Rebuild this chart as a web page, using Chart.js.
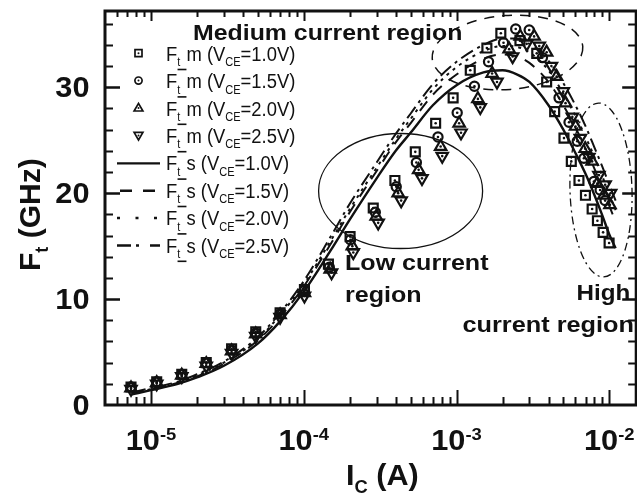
<!DOCTYPE html>
<html>
<head>
<meta charset="utf-8">
<script src="https://cdn.jsdelivr.net/npm/chart.js@4.4.1/dist/chart.umd.min.js"></script>
<style>
  html, body { margin: 0; padding: 0; background: #fff; overflow: hidden; }
  #wrap { width: 637px; height: 495px; overflow: hidden; }
  canvas { display: block; }
</style>
</head>
<body>
<div id="wrap"><canvas id="myChart" width="645" height="495" style="width:645px;height:495px"></canvas></div>
<script>
// Axis ranges
const xMin = 5e-6, xMax = 1.5e-2;
const yMin = 0, yMax = 37.2;

// Tick labels
const yTickLabels = [0, 10, 20, 30];
const xTickExponents = [-5, -4, -3, -2];

// Measured Ft (markers)
const icM10 = [7.4e-6, 1.09e-5, 1.59e-5, 2.3e-5, 3.37e-5, 4.85e-5, 7.0e-5, 1.01e-4, 1.45e-4, 2.01e-4, 2.85e-4, 3.95e-4, 5.37e-4, 7.3e-4, 9.5e-4, 1.23e-3, 1.58e-3, 1.95e-3, 2.6e-3, 3.35e-3, 3.89e-3, 4.39e-3, 5.05e-3, 5.64e-3, 6.33e-3, 6.98e-3, 7.72e-3, 8.36e-3, 9.11e-3, 9.97e-3];
const ftM10 = [1.7, 2.2, 2.9, 4.0, 5.3, 6.9, 8.7, 10.9, 13.3, 15.9, 18.6, 21.2, 23.9, 26.6, 29.0, 31.6, 33.7, 35.1, 34.4, 33.2, 30.5, 27.7, 25.2, 23.0, 21.2, 19.8, 18.5, 17.4, 16.3, 15.3];

const icM15 = [7.4e-6, 1.09e-5, 1.59e-5, 2.3e-5, 3.37e-5, 4.85e-5, 7.0e-5, 1.01e-4, 1.47e-4, 2.02e-4, 2.94e-4, 4.03e-4, 5.46e-4, 7.56e-4, 1.01e-3, 1.31e-3, 1.62e-3, 2.03e-3, 2.44e-3, 2.99e-3, 3.65e-3, 4.69e-3, 5.45e-3, 6.17e-3, 6.82e-3, 7.93e-3, 8.71e-3, 9.39e-3];
const ftM15 = [1.7, 2.2, 2.9, 4.0, 5.2, 6.8, 8.6, 10.8, 13.0, 15.6, 18.2, 20.6, 22.9, 25.3, 27.6, 30.1, 32.4, 34.2, 35.5, 35.4, 32.8, 29.0, 26.7, 24.9, 23.3, 21.1, 20.3, 19.3];

const icM20 = [7.4e-6, 1.09e-5, 1.59e-5, 2.3e-5, 3.37e-5, 4.85e-5, 7.0e-5, 1.01e-4, 1.49e-4, 2.08e-4, 2.98e-4, 4.15e-4, 5.65e-4, 7.87e-4, 1.04e-3, 1.38e-3, 1.71e-3, 2.21e-3, 2.61e-3, 3.22e-3, 3.89e-3, 4.52e-3, 5.17e-3, 6.01e-3, 6.95e-3, 7.72e-3, 8.34e-3, 9.2e-3, 1.01e-2];
const ftM20 = [1.6, 2.1, 2.8, 3.9, 5.1, 6.7, 8.5, 10.6, 12.8, 15.0, 17.8, 20.0, 22.2, 24.4, 26.6, 28.9, 31.3, 33.6, 34.8, 34.8, 33.3, 31.0, 28.5, 26.3, 24.2, 23.0, 20.9, 19.8, 18.9];

const icM25 = [7.4e-6, 1.09e-5, 1.59e-5, 2.3e-5, 3.37e-5, 4.85e-5, 7.0e-5, 1.01e-4, 1.52e-4, 2.11e-4, 3.07e-4, 4.34e-4, 5.94e-4, 8.06e-4, 1.07e-3, 1.43e-3, 1.84e-3, 2.33e-3, 2.88e-3, 3.48e-3, 4.18e-3, 5.0e-3, 5.73e-3, 6.46e-3, 7.35e-3, 8.55e-3, 9.39e-3, 1.02e-2];
const ftM25 = [1.5, 2.0, 2.7, 3.7, 4.9, 6.5, 8.3, 10.3, 12.5, 14.4, 17.2, 19.3, 21.4, 23.5, 25.7, 28.1, 30.5, 32.9, 34.1, 33.9, 32.0, 29.6, 27.2, 25.2, 23.4, 21.7, 20.8, 20.0];

// Simulated Ft (lines)
const icSim = [7.5e-6, 1e-5, 1.5e-5, 2e-5, 3e-5, 5e-5, 7e-5, 1e-4, 1.5e-4, 2e-4, 3e-4, 4e-4, 5e-4, 7e-4, 1e-3, 1.5e-3, 2e-3, 2.5e-3, 3e-3, 4e-3, 5e-3, 6e-3, 7e-3, 8e-3, 9e-3, 1e-2, 1.1e-2];
const ftS10 = [1.0, 1.4, 2.0, 2.6, 3.7, 5.8, 7.9, 10.7, 14.6, 17.5, 21.4, 24.0, 25.7, 28.3, 30.2, 31.4, 31.6, 31.2, 30.5, 28.3, 26.0, 23.8, 21.8, 19.8, 17.9, 16.1, 14.8];
const ftS15 = [1.1, 1.5, 2.1, 2.7, 3.9, 6.1, 8.3, 11.2, 15.2, 18.2, 22.1, 24.8, 26.6, 29.3, 31.2, 32.7, 33.1, 32.9, 32.3, 30.5, 28.3, 26.2, 24.2, 22.3, 20.5, 18.8, 17.3];
const ftS20 = [1.1, 1.5, 2.1, 2.8, 4.0, 6.2, 8.5, 11.4, 15.5, 18.5, 22.4, 25.1, 27.0, 29.8, 31.9, 33.4, 33.9, 33.8, 33.3, 31.6, 29.4, 27.3, 25.3, 23.4, 21.6, 19.9, 18.4];
const ftS25 = [1.2, 1.6, 2.2, 2.9, 4.1, 6.4, 8.7, 11.7, 15.9, 19.0, 22.9, 25.6, 27.5, 30.3, 32.4, 34.0, 34.6, 34.6, 34.1, 32.5, 30.4, 28.3, 26.3, 24.3, 22.5, 20.8, 19.3];

// Legend bias labels
const biasLabels = ['1.0V', '1.5V', '2.0V', '2.5V'];

const INK = '#111';

// Zet x en y om naar punten
function toPoints(xs, ys) {
    return xs.map((x, i) => ({ x: x, y: ys[i] }));
}

// Marker-stijlen (Chart.js pointStyle)
const markerStyles = [
    { pointStyle: 'rect', pointRadius: 6.3, rotation: 0 },
    { pointStyle: 'circle', pointRadius: 4.6, rotation: 0 },
    { pointStyle: 'triangle', pointRadius: 6.6, rotation: 0 },
    { pointStyle: 'triangle', pointRadius: 6.6, rotation: 180 }
];
const dashes = [[], [12, 9], [3, 5], [14, 5, 3, 5]];

// Kleine legenda-marker tekenen
function drawLegendMarker(ctx, i, x, y) {
    ctx.save();
    ctx.strokeStyle = INK;
    ctx.fillStyle = INK;
    ctx.lineWidth = 1.7;
    ctx.beginPath();
    if (i === 0) {
        ctx.rect(x - 3.5, y - 3.5, 7, 7);
    } else if (i === 1) {
        ctx.arc(x, y, 3.6, 0, Math.PI * 2);
    } else if (i === 2) {
        ctx.moveTo(x, y - 4.6); ctx.lineTo(x + 4.4, y + 3); ctx.lineTo(x - 4.4, y + 3); ctx.closePath();
    } else {
        ctx.moveTo(x, y + 4.6); ctx.lineTo(x + 4.4, y - 3); ctx.lineTo(x - 4.4, y - 3); ctx.closePath();
    }
    ctx.stroke();
    ctx.beginPath();
    ctx.arc(x, y, 1, 0, Math.PI * 2);
    ctx.fill();
    ctx.restore();
}

// Rijke tekst met sub- en superscript, horizontaal uitgerekt met sx
function drawRich(ctx, x, y, parts, size, weight, sx, align) {
    ctx.save();
    ctx.translate(x, y);
    ctx.scale(sx, 1);
    ctx.fillStyle = INK;
    ctx.textBaseline = 'alphabetic';
    ctx.textAlign = 'left';
    const fontOf = p => weight + ' ' + (p[1] ? size * 0.6 : size) + 'px "Liberation Sans", Arial, sans-serif';
    let total = 0;
    parts.forEach(p => { ctx.font = fontOf(p); total += ctx.measureText(p[0]).width; });
    let cx = align === 'center' ? -total / 2 : (align === 'right' ? -total : 0);
    parts.forEach(p => {
        ctx.font = fontOf(p);
        const w = ctx.measureText(p[0]).width;
        let dy = 0;
        if (p[1] === 'sub') dy = size * 0.27;
        if (p[1] === 'sup') dy = -size * 0.35;
        if (p[1] === 'ul') {
            // liggend streepje onder de index
            ctx.fillRect(cx - 3, size * 0.4, w + 3, 1.6);
        } else {
            ctx.fillText(p[0], cx, dy);
        }
        cx += w;
    });
    ctx.restore();
}

function ellipse(ctx, cx, cy, rx, ry, rot, dash, lw) {
    ctx.save();
    ctx.strokeStyle = INK;
    ctx.lineWidth = lw;
    ctx.setLineDash(dash);
    ctx.beginPath();
    ctx.ellipse(cx, cy, rx, ry, rot, 0, Math.PI * 2);
    ctx.stroke();
    ctx.restore();
}

// Plugin: achtergrond, stipjes, assen, teksten en legenda
const decorations = {
    id: 'decorations',
    beforeDraw(chart) {
        const ctx = chart.ctx;
        ctx.save();
        ctx.fillStyle = '#fff';
        ctx.fillRect(0, 0, chart.width, chart.height);
        ctx.restore();
    },
    afterDatasetsDraw(chart) {
        const ctx = chart.ctx;
        const xs = chart.scales.x, ys = chart.scales.y;
        const a = chart.chartArea;

        // Stip in het midden van elke meetmarker
        ctx.save();
        ctx.fillStyle = INK;
        for (let d = 0; d < 4; d++) {
            chart.getDatasetMeta(d).data.forEach(el => {
                ctx.beginPath();
                ctx.arc(el.x, el.y, 1.3, 0, Math.PI * 2);
                ctx.fill();
            });
        }
        ctx.restore();

        // Annotaties
        ellipse(ctx, 400.6, 191, 82, 57.5, 0, [], 1.3);
        ellipse(ctx, 507.5, 52.5, 75.5, 37, -0.08, [10, 8], 1.5);
        ellipse(ctx, 601, 190, 31, 87, -0.03, [8, 4, 2, 4], 1.3);

        drawRich(ctx, 193, 40, [['Medium current region']], 22, 'bold', 1.13, 'left');
        drawRich(ctx, 345, 270, [['Low current']], 22, 'bold', 1.14, 'left');
        drawRich(ctx, 345, 301.5, [['region']], 22, 'bold', 1.14, 'left');
        drawRich(ctx, 576.5, 300, [['High']], 22, 'bold', 1.1, 'left');
        drawRich(ctx, 462.5, 331.5, [['current region']], 22, 'bold', 1.15, 'left');

        // Kader
        ctx.save();
        ctx.strokeStyle = INK;
        ctx.lineWidth = 3;
        ctx.strokeRect(a.left, a.top, a.right - a.left, a.bottom - a.top);

        // x ticks (naar binnen)
        ctx.lineWidth = 2;
        for (let e = -6; e <= -2; e++) {
            for (let m = 1; m <= 9; m++) {
                const v = m * Math.pow(10, e);
                if (v < xMin * 1.01 || v > xMax) continue;
                const px = Math.round(xs.getPixelForValue(v)) + 0.5;
                const len = m === 1 ? 15 : 8;
                ctx.beginPath();
                ctx.moveTo(px, a.bottom);
                ctx.lineTo(px, a.bottom - len);
                ctx.moveTo(px, a.top);
                ctx.lineTo(px, a.top + (m === 1 ? 10 : 6));
                ctx.stroke();
            }
        }
        // y ticks (naar binnen)
        for (let v = 2; v <= 36; v += 2) {
            const py = Math.round(ys.getPixelForValue(v)) + 0.5;
            const major = v % 10 === 0;
            ctx.lineWidth = major ? 2.5 : 2;
            ctx.beginPath();
            ctx.moveTo(a.left, py);
            ctx.lineTo(a.left + (major ? 15 : 8), py);
            ctx.moveTo(a.right, py);
            ctx.lineTo(a.right - (major ? 14 : 8), py);
            ctx.stroke();
        }
        ctx.restore();

        // Tick labels
        yTickLabels.forEach(v => {
            drawRich(ctx, 89.5, ys.getPixelForValue(v) + 9.8, [[String(v)]], 29, 'bold', 1.06, 'right');
        });
        xTickExponents.forEach(e => {
            drawRich(ctx, xs.getPixelForValue(Math.pow(10, e)), 450, [['10'], [String(e), 'sup']], 29, 'bold', 1.06, 'center');
        });

        // As-titels
        drawRich(ctx, 346, 485, [['I'], ['C', 'sub'], [' (A)']], 30, 'bold', 1.02, 'left');
        ctx.save();
        ctx.translate(40, 271);
        ctx.rotate(-Math.PI / 2);
        drawRich(ctx, 0, 0, [['F'], ['t', 'sub'], [' (GHz)']], 30, 'bold', 1.0, 'left');
        ctx.restore();

        // Legenda
        const rowY = i => 60.7 + i * 27.4;
        for (let i = 0; i < 4; i++) {
            drawLegendMarker(ctx, i, 138.5, rowY(i) - 7.5);
            drawRich(ctx, 166, rowY(i), [['F'], ['t', 'sub'], ['_', 'ul'], ['m (V'], ['CE', 'sub'], ['=' + biasLabels[i] + ')']], 20, 'normal', 0.92, 'left');
        }
        const legendDash = [[], [12, 11], [3, 15.5], [14, 5, 3, 11]];
        for (let i = 0; i < 4; i++) {
            const y = rowY(i + 4) - 7;
            ctx.save();
            ctx.strokeStyle = INK;
            ctx.lineWidth = i === 0 ? 2.2 : 2.5;
            ctx.setLineDash(legendDash[i]);
            ctx.beginPath();
            ctx.moveTo(i === 1 ? 120 : 117, y);
            ctx.lineTo(160, y);
            ctx.stroke();
            ctx.restore();
            drawRich(ctx, 166, rowY(i + 4), [['F'], ['t', 'sub'], ['_', 'ul'], ['s (V'], ['CE', 'sub'], ['=' + biasLabels[i] + ')']], 20, 'normal', 0.92, 'left');
        }
    }
};

const measured = [[icM10, ftM10], [icM15, ftM15], [icM20, ftM20], [icM25, ftM25]];
const simulated = [ftS10, ftS15, ftS20, ftS25];

const datasets = [];
measured.forEach((d, i) => {
    datasets.push({
        label: 'Ft_m (VCE=' + biasLabels[i] + ')',
        data: toPoints(d[0], d[1]),
        showLine: false,
        pointStyle: markerStyles[i].pointStyle,
        pointRadius: markerStyles[i].pointRadius,
        pointHoverRadius: markerStyles[i].pointRadius,
        pointRotation: markerStyles[i].rotation,
        pointBorderColor: INK,
        pointBackgroundColor: 'rgba(0,0,0,0)',
        pointBorderWidth: 2.2
    });
});
simulated.forEach((ft, i) => {
    datasets.push({
        label: 'Ft_s (VCE=' + biasLabels[i] + ')',
        data: toPoints(icSim, ft),
        showLine: true,
        borderColor: INK,
        borderWidth: i === 0 ? 2.4 : 2,
        borderDash: dashes[i],
        pointRadius: 0,
        fill: false,
        cubicInterpolationMode: 'monotone'
    });
});

var ChartCanvas = document.getElementById('myChart');
var myChart = new Chart(ChartCanvas, {
    type: 'scatter',
    data: { datasets: datasets },
    options: {
        responsive: false,
        devicePixelRatio: 1,
        animation: false,
        layout: { padding: { left: 105, top: 11, right: 6, bottom: 90 } },
        scales: {
            x: { type: 'logarithmic', min: xMin, max: xMax, display: false },
            y: { type: 'linear', min: yMin, max: yMax, display: false }
        },
        plugins: {
            legend: { display: false },
            tooltip: { enabled: false }
        }
    },
    plugins: [decorations]
});
</script>
</body>
</html>
